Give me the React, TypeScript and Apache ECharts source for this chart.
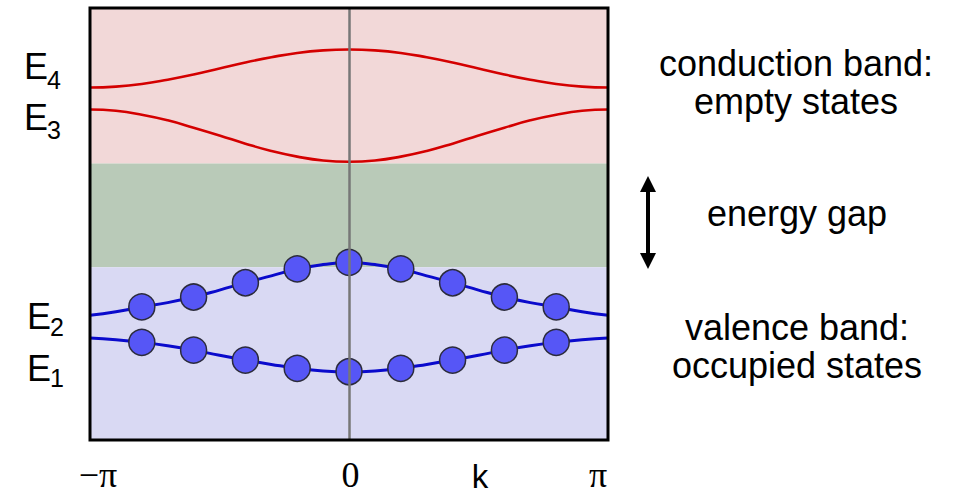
import React, { useEffect, useRef } from "react";
import * as echarts from "echarts";

// wave vector k in units of pi
const kGrid = [-1, -0.9, -0.8, -0.7, -0.6, -0.5, -0.4, -0.3, -0.2, -0.1, 0, 0.1, 0.2, 0.3, 0.4, 0.5, 0.6, 0.7, 0.8, 0.9, 1];
const bandE4 = [81.6, 81.8, 82.4, 83.4, 84.6, 86.0, 87.4, 88.6, 89.6, 90.2, 90.4, 90.2, 89.6, 88.6, 87.4, 86.0, 84.6, 83.4, 82.4, 81.8, 81.6];
const bandE3 = [76.5, 76.2, 75.3, 74.0, 72.3, 70.5, 68.6, 66.9, 65.6, 64.7, 64.4, 64.7, 65.6, 66.9, 68.6, 70.5, 72.3, 74.0, 75.3, 76.2, 76.5];
const bandE2 = [28.9, 29.7, 30.8, 31.8, 33.1, 34.7, 36.4, 38.0, 39.6, 40.6, 41.1, 40.6, 39.6, 38.0, 36.4, 34.7, 33.1, 31.8, 30.8, 29.7, 28.9];
const bandE1 = [23.6, 23.2, 22.6, 21.8, 20.8, 19.6, 18.5, 17.5, 16.6, 16.0, 15.8, 16.0, 16.6, 17.5, 18.5, 19.6, 20.8, 21.8, 22.6, 23.2, 23.6];

// occupied states (electrons)
const dotK = [-0.8, -0.6, -0.4, -0.2, 0, 0.2, 0.4, 0.6, 0.8];
const dotE2 = [30.8, 33.1, 36.4, 39.6, 41.1, 39.6, 36.4, 33.1, 30.8];
const dotE1 = [22.6, 20.8, 18.5, 16.6, 15.8, 16.6, 18.5, 20.8, 22.6];

// energy regions [from, to]
const conductionRange = [64, 100];
const gapRange = [40, 64];
const valenceRange = [0, 40];

const xTickLabels: Record<string, string> = { "-1": "{a|−π}", "0": "{b|0}", "1": "{c|π}" };
const levelNames = ["4", "3", "2", "1"];
const sideTexts = ["conduction band:\nempty states", "energy gap", "valence band:\noccupied states"];
const axisName = "k";

const W = 967;
const H = 496;
const GL = 90, GR = 359, GT = 8, GB = 56;

export default function App() {
  const ref = useRef<HTMLDivElement>(null);
  useEffect(() => {
    if (!ref.current) return;
    const chart = echarts.init(ref.current, null, { renderer: "svg" });
    const zip = (xs: number[], ys: number[]) => xs.map((x, i) => [x, ys[i]]);
    const sans = "Liberation Sans";
    const levelPos = [
      { ex: 24, ey: 66, sx: 47, sy: 80 },
      { ex: 24, ey: 117, sx: 47, sy: 130 },
      { ex: 27, ey: 316, sx: 50, sy: 327 },
      { ex: 27, ey: 368, sx: 50, sy: 378 },
    ];
    const levelGraphics: any[] = [];
    levelNames.forEach((n, i) => {
      const p = levelPos[i];
      levelGraphics.push({
        type: "text", x: p.ex, y: p.ey,
        style: { text: "E", font: `36px '${sans}'`, fill: "#000", verticalAlign: "middle", align: "left" },
      });
      levelGraphics.push({
        type: "text", x: p.sx, y: p.sy,
        style: { text: n, font: `25px '${sans}'`, fill: "#000", verticalAlign: "middle", align: "left" },
      });
    });
    const ax = 648;
    const serif = { fontFamily: "Liberation Serif", fontSize: 36, color: "#000" };
    chart.setOption({
      animation: false,
      grid: { left: GL, right: GR, top: GT, bottom: GB, show: true, borderColor: "#000", borderWidth: 3, backgroundColor: "transparent", z: 10 },
      xAxis: {
        type: "value", min: -1, max: 1, interval: 1,
        axisLine: { show: false }, axisTick: { show: false }, splitLine: { show: false },
        axisLabel: {
          margin: 17,
          formatter: (v: number) => xTickLabels[String(v)] ?? "",
          rich: {
            a: { ...serif, padding: [0, 0, 0, 16] },
            b: { ...serif, padding: [0, 0, 0, 3] },
            c: { ...serif, padding: [0, 20, 0, 0] },
          },
        },
      },
      yAxis: {
        type: "value", min: 0, max: 100,
        axisLine: { show: false }, axisTick: { show: false }, splitLine: { show: false }, axisLabel: { show: false },
      },
      series: [
        {
          type: "line", data: [], z: 1, silent: true,
          markArea: {
            silent: true,
            label: { show: false },
            data: [
              [{ yAxis: conductionRange[0], itemStyle: { color: "#f2d8d8" } }, { yAxis: conductionRange[1] }],
              [{ yAxis: gapRange[0], itemStyle: { color: "#b9cab8" } }, { yAxis: gapRange[1] }],
              [{ yAxis: valenceRange[0], itemStyle: { color: "#d9d9f3" } }, { yAxis: valenceRange[1] }],
            ],
          },
        },
        {
          type: "line", data: [], z: 2, silent: true,
          markLine: {
            silent: true, symbol: ["none", "none"], label: { show: false },
            lineStyle: { color: "#777", width: 2.5, type: "solid" },
            data: [{ xAxis: 0 }],
          },
        },
        { name: "E4", type: "line", z: 3, smooth: true, showSymbol: false, data: zip(kGrid, bandE4), lineStyle: { color: "#d40000", width: 2.6 } },
        { name: "E3", type: "line", z: 3, smooth: true, showSymbol: false, data: zip(kGrid, bandE3), lineStyle: { color: "#d40000", width: 2.6 } },
        { name: "E2", type: "line", z: 3, smooth: true, showSymbol: false, data: zip(kGrid, bandE2), lineStyle: { color: "#0a0acc", width: 3 } },
        { name: "E1", type: "line", z: 3, smooth: true, showSymbol: false, data: zip(kGrid, bandE1), lineStyle: { color: "#0a0acc", width: 3 } },
        { type: "scatter", z: 4, symbolSize: 26, data: zip(dotK, dotE2), itemStyle: { color: "#5656f6", borderColor: "#2b2b3c", borderWidth: 1.5, opacity: 1 } },
        { type: "scatter", z: 4, symbolSize: 26, data: zip(dotK, dotE1), itemStyle: { color: "#5656f6", borderColor: "#2b2b3c", borderWidth: 1.5, opacity: 1 } },
      ],
      graphic: [
        ...levelGraphics,
        {
          type: "text", x: 480, y: 476,
          style: { text: axisName, font: `33px '${sans}'`, fill: "#000", align: "center", verticalAlign: "middle" },
        },
        {
          type: "text", x: 796, y: 82,
          style: { text: sideTexts[0], font: `36px '${sans}'`, lineHeight: 38, fill: "#000", align: "center", verticalAlign: "middle" },
        },
        {
          type: "text", x: 797, y: 213,
          style: { text: sideTexts[1], font: `36px '${sans}'`, fill: "#000", align: "center", verticalAlign: "middle" },
        },
        {
          type: "text", x: 797, y: 346,
          style: { text: sideTexts[2], font: `36px '${sans}'`, lineHeight: 38, fill: "#000", align: "center", verticalAlign: "middle" },
        },
        { type: "line", shape: { x1: ax, y1: 188, x2: ax, y2: 257 }, style: { stroke: "#000", lineWidth: 4 } },
        { type: "polygon", shape: { points: [[ax, 176], [ax - 8, 192], [ax + 8, 192]] }, style: { fill: "#000" } },
        { type: "polygon", shape: { points: [[ax, 269], [ax - 8, 253], [ax + 8, 253]] }, style: { fill: "#000" } },
      ],
    });
    return () => chart.dispose();
  }, []);
  return <div ref={ref} style={{ position: "fixed", left: 0, top: 0, width: W, height: H, background: "#fff" }} />;
}
